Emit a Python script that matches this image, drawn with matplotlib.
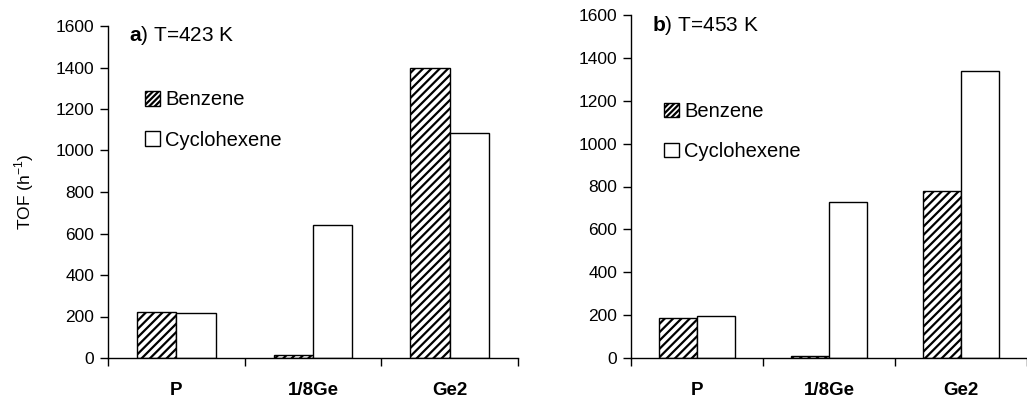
import numpy as np
import matplotlib
matplotlib.use("Agg")
import matplotlib.pyplot as plt
from matplotlib.patches import Patch

plt.rcParams['font.family'] = ['Liberation Sans', 'DejaVu Sans']
plt.rcParams['mathtext.fontset'] = 'custom'
plt.rcParams['mathtext.rm'] = 'Liberation Sans'
plt.rcParams['mathtext.bf'] = 'Liberation Sans:bold'
plt.rcParams['hatch.linewidth'] = 1.6

categories = ['P', '1/8Ge', 'Ge2']
benzene_a = [220, 15, 1400]
cyclohexene_a = [215, 640, 1085]
benzene_b = [185, 8, 780]
cyclohexene_b = [195, 730, 1340]

fig = plt.figure(figsize=(10.27, 4.0), dpi=100)
W, H = 1027.0, 400.0


def panel(rect, benz, cyc, title, xmax, title_y, legend_x, legend_y, ylabel=None):
    ax = fig.add_axes(rect)
    x = np.arange(len(categories)) + 0.5
    w = 0.287
    ax.bar(x - w/2, benz, w, color='white', edgecolor='black', hatch='////', linewidth=1.0)
    ax.bar(x + w/2, cyc, w, color='white', edgecolor='black', linewidth=1.0)
    ax.set_xlim(0, xmax)
    ax.set_ylim(0, 1600)
    ax.set_yticks(np.arange(0, 1601, 200))
    ax.tick_params(axis='y', labelsize=12.5, length=6, width=1, direction='out', pad=4)
    ax.set_xticks([0, 1, 2, 3])
    ax.set_xticklabels([])
    ax.tick_params(axis='x', length=6, width=1, direction='out')
    ax.set_xticks(x, minor=True)
    ax.set_xticklabels(categories, minor=True, fontsize=13.5, fontweight='bold')
    ax.tick_params(axis='x', which='minor', length=0, pad=17)
    for s in ['top', 'right']:
        ax.spines[s].set_visible(False)
    ax.spines['left'].set_linewidth(1)
    ax.spines['bottom'].set_linewidth(1)
    ax.text(0.052, title_y, title, transform=ax.transAxes, fontsize=15,
            va='center', ha='left')
    if ylabel:
        ax.set_ylabel(ylabel, fontsize=12.5, labelpad=14)
    handles = [Patch(facecolor='white', edgecolor='black', hatch='//////', label='Benzene'),
               Patch(facecolor='white', edgecolor='black', label='Cyclohexene')]
    ax.legend(handles=handles, loc='upper left', bbox_to_anchor=(legend_x, legend_y),
              frameon=False, fontsize=14.5, handlelength=0.75, handleheight=0.75,
              handletextpad=0.25, labelspacing=1.05, borderaxespad=0)
    return ax


panel([108/W, 42/H, 410/W, 332/H], benzene_a, cyclohexene_a, r'$\mathbf{a}$) T=423 K',
      3.0 * 410 / 428, 0.97, 0.07, 0.83, ylabel='TOF (h$^{-1}$)')
panel([631/W, 42/H, 396/W, 343/H], benzene_b, cyclohexene_b, r'$\mathbf{b}$) T=453 K',
      396 / 134.5, 0.97, 0.063, 0.77)

fig.savefig('out.png', dpi=100)
